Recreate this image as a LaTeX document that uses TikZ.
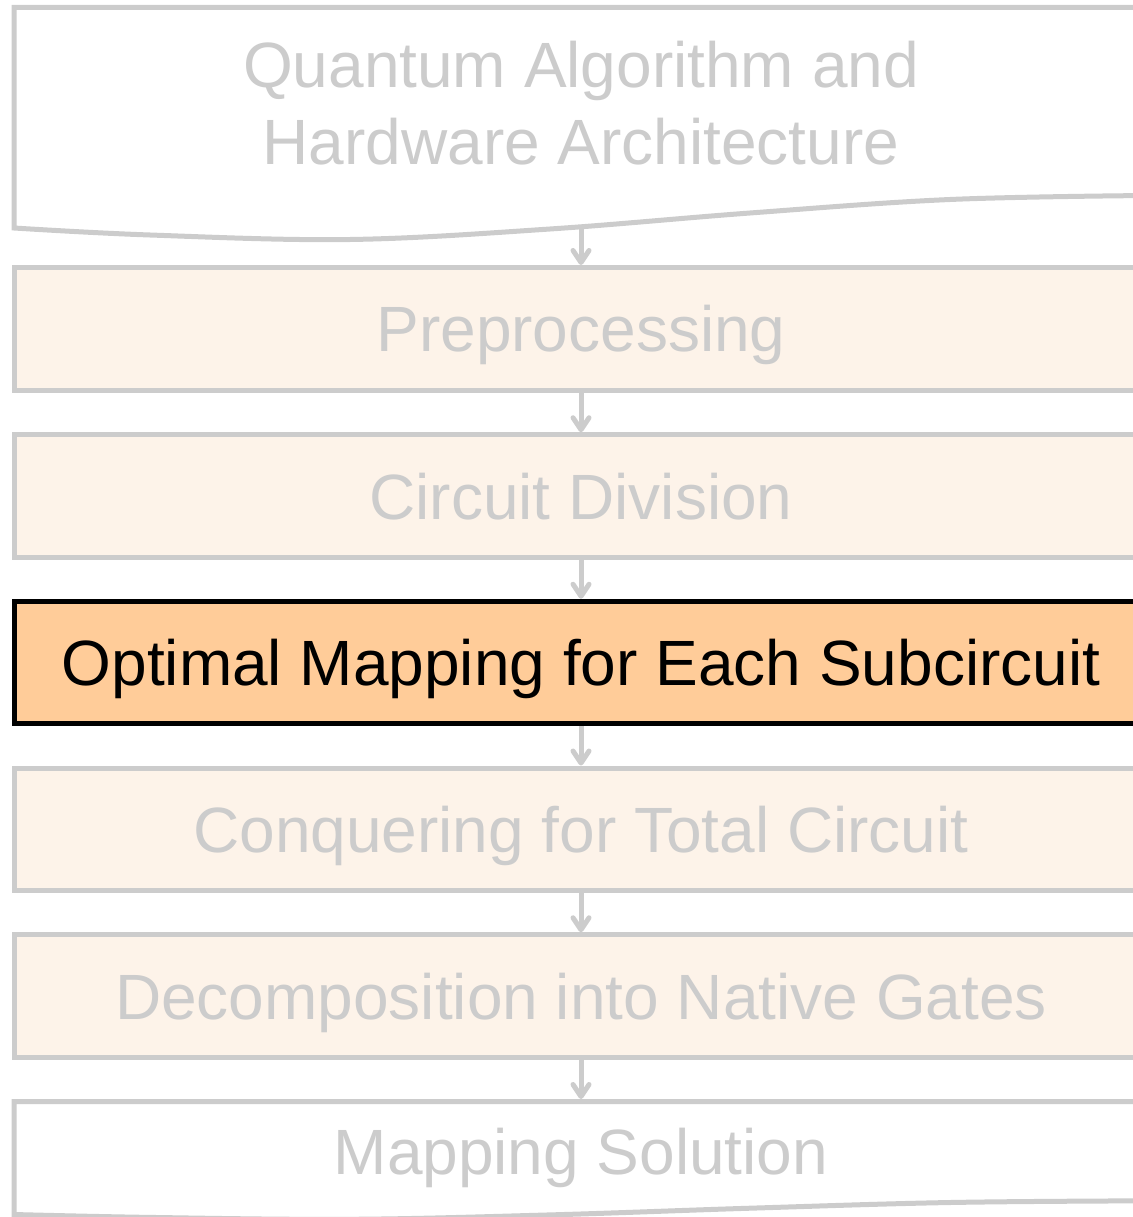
\documentclass[tikz,border=0pt]{standalone}
\usepackage{fontspec}
\setmainfont{Liberation Sans}
\usetikzlibrary{arrows.meta}
\definecolor{lgray}{HTML}{CCCCCC}
\definecolor{lfill}{HTML}{FDF3E9}
\definecolor{hfill}{HTML}{FFCC99}
\tikzset{
  stagebox/.style={draw=lgray, line width=5pt, fill=lfill, minimum width=1134pt,
    minimum height=122.5pt, inner sep=0pt, text height=46pt, text depth=0pt,
    font=\fontsize{64}{77}\selectfont, text=lgray},
  hibox/.style={stagebox, draw=black, fill=hfill, text=black},
  doctext/.style={inner sep=0pt, font=\fontsize{64}{77}\selectfont, text=lgray, align=center},
  flow/.style={draw=lgray, line width=5pt, -{Straight Barb[length=12pt,width=16pt,round]}},
}
\begin{document}
\begin{tikzpicture}[x=1pt,y=-1pt]
\useasboundingbox (0,0) rectangle (1132,1217);
% document shape 1
\draw[lgray, line width=5pt, fill=white, line join=miter]
  (14,228) -- (14,7.5) -- (1148,7.5) -- (1148,195.5)
  -- plot[smooth, tension=0.6] coordinates {(1148,195.5) (950,199.5) (750,213) (550,229) (350,239.5) (150,235) (14,228)} -- cycle;
\node[doctext] (input) at (581,103) {Quantum Algorithm and\\Hardware Architecture};
\coordinate (inbot) at (581,227);
% stage boxes
\node[stagebox] (pre) at (581,328.75) {Preprocessing};
\node[stagebox] (div) at (581,496) {Circuit Division};
\node[hibox] (opt) at (581,662.5) {Optimal Mapping for Each Subcircuit};
\node[stagebox] (con) at (581,829.25) {Conquering for Total Circuit};
\node[stagebox] (dec) at (581,996) {Decomposition into Native Gates};
% document shape 2
\draw[lgray, line width=5pt, fill=white, line join=miter]
  (14,1214.5) -- (14,1101.5) -- (1148,1101.5) -- (1148,1200.8)
  -- plot[smooth, tension=0.6] coordinates {(1148,1200.8) (950,1202.5) (750,1208.2) (550,1214.9) (350,1219.3) (150,1217.4) (14,1214.5)} -- cycle;
\node[doctext, text height=46pt, text depth=0pt] (out) at (581,1151.7) {Mapping Solution};
\coordinate (outtop) at (581,1099);
% connectors
\draw[flow] (inbot) -- (pre.north);
\draw[flow] (pre.south) -- (div.north);
\draw[flow] (div.south) -- (opt.north);
\draw[flow] (opt.south) -- (con.north);
\draw[flow] (con.south) -- (dec.north);
\draw[flow] (dec.south) -- (outtop);
\end{tikzpicture}
\end{document}
